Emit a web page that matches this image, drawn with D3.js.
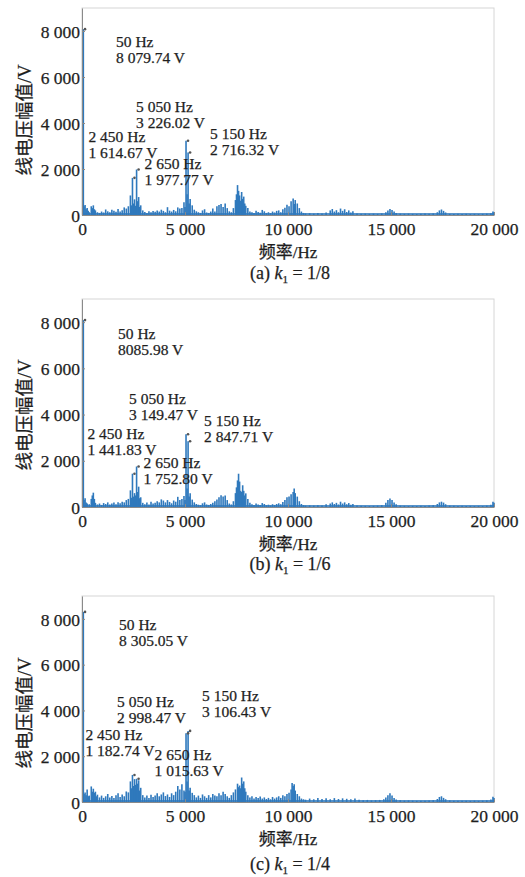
<!DOCTYPE html>
<html>
<head>
<meta charset="utf-8">
<script src="https://cdnjs.cloudflare.com/ajax/libs/d3/7.8.5/d3.min.js"></script>
<style>
  html, body { margin: 0; padding: 0; background: #fff; }
  svg text { font-family: "Times New Roman", "Liberation Serif", "DejaVu Serif", "Noto Sans CJK SC", serif; fill: #1e1e1e; stroke: #1e1e1e; stroke-width: 0.25px; }
</style>
</head>
<body>
<div id="chart"></div>
<script>
'use strict';

// ─── DATA ────────────────────────────────────────────────────
// line-voltage spectra, [frequency Hz, amplitude V]

var xTicks = [0, 5000, 10000, 15000, 20000];
var yTicks = [0, 2000, 4000, 6000, 8000];
var captions = ['1/8', '1/6', '1/4'];
var captionTags = ['(a)', '(b)', '(c)'];

var specA = [
  [50,8079.74],[100,380],[150,430],[200,250],[250,300],[300,180],[350,120],[450,380],[500,300],[550,420],
  [600,250],[650,200],[750,120],[850,90],[950,150],[1050,110],[1150,240],[1250,160],[1350,120],[1450,230],
  [1550,180],[1650,140],[1750,260],[1850,150],[1950,210],[2050,330],[2150,280],[2250,380],[2350,850],[2400,420],
  [2450,1614.67],[2500,500],[2550,680],[2600,400],[2650,1977.77],[2700,600],[2750,780],[2800,350],[2850,420],[2950,200],
  [3050,130],[3150,90],[3250,160],[3350,120],[3450,170],[3550,140],[3650,200],[3750,150],[3850,230],[3950,180],
  [4050,120],[4150,340],[4250,190],[4350,150],[4450,220],[4550,160],[4650,330],[4750,280],[4850,300],[4950,550],
  [5000,350],[5050,3226.02],[5100,900],[5150,2716.32],[5200,500],[5250,700],[5350,420],[5450,230],[5550,160],[5650,120],
  [5750,90],[5850,200],[5950,250],[6050,110],[6150,90],[6250,150],[6350,280],[6450,150],[6550,380],[6650,430],
  [6750,480],[6850,350],[6950,500],[7050,300],[7150,160],[7250,120],[7350,300],[7450,650],[7500,900],[7550,1300],
  [7600,1050],[7650,850],[7700,620],[7750,1000],[7800,700],[7850,800],[7900,500],[7950,400],[8050,300],[8150,150],
  [8250,120],[8350,90],[8450,180],[8550,130],[8650,100],[8750,220],[8850,160],[8950,90],[9050,120],[9150,80],
  [9250,150],[9350,110],[9450,180],[9550,200],[9650,120],[9750,250],[9850,320],[9950,450],[10050,380],[10150,600],
  [10250,720],[10300,480],[10350,650],[10450,500],[10550,300],[10650,150],[10750,90],[10850,70],[11050,80],[11250,60],
  [11450,90],[11650,70],[11850,110],[12050,200],[12150,260],[12250,150],[12350,210],[12450,120],[12550,280],[12650,180],
  [12750,250],[12850,130],[12950,200],[13050,110],[13150,160],[13350,70],[13550,50],[13750,60],[13950,50],[14150,60],
  [14350,50],[14550,70],[14750,120],[14850,200],[14950,260],[15050,220],[15150,150],[15250,90],[15450,60],[15650,50],
  [15850,60],[16050,50],[16250,40],[16450,50],[16650,60],[16850,50],[17050,70],[17250,120],[17350,200],[17450,240],
  [17550,180],[17650,110],[17850,50],[18050,40],[18250,50],[18450,40],[18650,50],[18850,40],[19050,50],[19250,40],
  [19450,50],[19650,60],[19850,80],[19950,150],[20000,120]
];

var specB = [
  [50,8085.98],[100,300],[150,380],[200,200],[250,150],[350,120],[450,350],[500,500],[550,620],[600,350],
  [650,180],[750,110],[850,150],[950,90],[1050,170],[1150,130],[1250,200],[1350,110],[1450,150],[1550,190],
  [1650,120],[1750,210],[1850,160],[1950,230],[2050,200],[2150,300],[2250,350],[2350,720],[2400,400],[2450,1441.83],
  [2500,450],[2550,600],[2600,500],[2650,1752.80],[2700,650],[2750,880],[2800,380],[2850,420],[2950,180],[3050,120],
  [3150,200],[3250,110],[3350,230],[3450,150],[3550,180],[3650,250],[3750,200],[3850,330],[3950,280],[4050,200],
  [4150,300],[4250,220],[4350,160],[4450,280],[4550,230],[4650,440],[4750,300],[4850,350],[4950,480],[5000,300],
  [5050,3149.47],[5100,800],[5150,2847.71],[5200,450],[5250,600],[5350,320],[5450,200],[5550,130],[5650,100],[5750,80],
  [5850,160],[5950,200],[6050,110],[6150,90],[6250,130],[6350,180],[6450,250],[6550,320],[6650,420],[6750,510],
  [6850,450],[6950,500],[7050,300],[7150,150],[7250,110],[7350,250],[7450,600],[7500,850],[7550,1150],[7600,1440],
  [7650,1100],[7700,700],[7750,650],[7800,940],[7850,700],[7900,500],[7950,590],[8050,350],[8150,180],[8250,120],
  [8350,90],[8450,150],[8550,110],[8650,90],[8750,170],[8850,130],[8950,80],[9050,100],[9150,70],[9250,120],
  [9350,90],[9450,130],[9550,160],[9650,120],[9750,220],[9850,300],[9950,420],[10050,450],[10150,550],[10250,650],
  [10300,800],[10350,600],[10450,450],[10550,250],[10650,130],[10750,80],[10850,60],[11050,70],[11250,60],[11450,80],
  [11650,70],[11850,120],[12050,150],[12150,200],[12250,130],[12350,180],[12450,110],[12550,230],[12650,150],[12750,200],
  [12850,120],[12950,170],[13050,100],[13150,130],[13350,60],[13550,50],[13750,50],[13950,40],[14150,50],[14350,60],
  [14550,80],[14750,180],[14850,300],[14950,370],[15050,300],[15150,200],[15250,120],[15450,60],[15650,50],[15850,40],
  [16050,50],[16250,40],[16450,50],[16650,40],[16850,60],[17050,80],[17250,130],[17350,200],[17450,230],[17550,190],
  [17650,120],[17850,60],[18050,50],[18250,40],[18450,50],[18650,40],[18850,50],[19050,40],[19250,50],[19450,40],
  [19650,60],[19850,100],[19950,230],[20000,180]
];

var specC = [
  [50,8305.05],[100,350],[150,420],[200,300],[250,550],[300,250],[350,280],[450,680],[500,450],[550,580],
  [600,400],[650,450],[700,250],[750,320],[850,200],[950,280],[1050,180],[1150,250],[1250,350],[1350,200],
  [1450,260],[1550,180],[1650,300],[1750,380],[1850,220],[1950,330],[2050,250],[2150,460],[2250,420],[2350,900],
  [2400,600],[2450,1182.74],[2500,700],[2550,1000],[2600,750],[2650,1015.63],[2700,800],[2750,950],[2800,500],[2850,620],
  [2950,300],[3050,200],[3150,280],[3250,180],[3350,320],[3450,220],[3550,280],[3650,380],[3750,250],[3850,330],
  [3950,420],[4050,260],[4150,330],[4250,220],[4350,380],[4450,300],[4550,450],[4650,700],[4750,550],[4850,780],
  [4950,500],[5000,450],[5050,2998.47],[5100,900],[5150,3106.43],[5200,500],[5250,620],[5350,400],[5450,300],[5550,200],
  [5650,280],[5750,180],[5850,330],[5950,250],[6050,180],[6150,300],[6250,200],[6350,350],[6450,280],[6550,250],
  [6650,380],[6750,300],[6850,450],[6950,350],[7050,250],[7150,180],[7250,300],[7350,420],[7450,550],[7550,800],
  [7600,650],[7650,720],[7700,600],[7750,1070],[7800,800],[7850,900],[7900,600],[7950,450],[8050,300],[8150,200],
  [8250,250],[8350,150],[8450,220],[8550,170],[8650,240],[8750,150],[8850,200],[8950,130],[9050,180],[9150,120],
  [9250,220],[9350,150],[9450,200],[9550,250],[9650,180],[9750,300],[9850,250],[9950,350],[10050,400],[10150,550],
  [10200,830],[10250,700],[10300,780],[10350,500],[10450,350],[10550,250],[10650,150],[10750,120],[10850,100],[11050,150],
  [11250,120],[11450,170],[11650,130],[11850,160],[12050,120],[12250,170],[12450,130],[12650,160],[12850,140],[13050,120],
  [13250,150],[13450,100],[13650,80],[13850,90],[14050,70],[14250,80],[14450,90],[14650,120],[14750,200],[14850,300],
  [14950,385],[15050,280],[15150,180],[15250,110],[15450,80],[15650,60],[15850,70],[16050,60],[16250,50],[16450,60],
  [16650,50],[16850,70],[17050,80],[17250,130],[17350,220],[17450,250],[17550,180],[17650,120],[17850,70],[18050,50],
  [18250,60],[18450,50],[18650,60],[18850,50],[19050,60],[19250,50],[19450,60],[19650,70],[19850,110],[19950,230],
  [20000,180]
];

// annotated peaks: [frequency, amplitude, line 1, line 2]
var peaksA = [
  [50, 8079.74, '50 Hz', '8 079.74 V'],
  [5050, 3226.02, '5 050 Hz', '3 226.02 V'],
  [2450, 1614.67, '2 450 Hz', '1 614.67 V'],
  [5150, 2716.32, '5 150 Hz', '2 716.32 V'],
  [2650, 1977.77, '2 650 Hz', '1 977.77 V']
];
var peaksB = [
  [50, 8085.98, '50 Hz', '8085.98 V'],
  [5050, 3149.47, '5 050 Hz', '3 149.47 V'],
  [2450, 1441.83, '2 450 Hz', '1 441.83 V'],
  [5150, 2847.71, '5 150 Hz', '2 847.71 V'],
  [2650, 1752.80, '2 650 Hz', '1 752.80 V']
];
var peaksC = [
  [50, 8305.05, '50 Hz', '8 305.05 V'],
  [5050, 2998.47, '5 050 Hz', '2 998.47 V'],
  [2450, 1182.74, '2 450 Hz', '1 182.74 V'],
  [5150, 3106.43, '5 150 Hz', '3 106.43 V'],
  [2650, 1015.63, '2 650 Hz', '1 015.63 V']
];

// ─── LAYOUT ──────────────────────────────────────────────────

var W = 525, H = 877;
var plotLeft = 82, plotRight = 494;
var blue = '#2f79bd';

// label offsets (px) from each peak, same order as the peaks arrays
var panels = [
  { spec: specA, peaks: peaksA, top: 8, zero: 215, capY: 279, yTitle: 120,
    offs: [[33, 18], [-50, -29], [-44, -36], [22, -14], [8, -1]] },
  { spec: specB, peaks: peaksB, top: 299, zero: 507, capY: 570, yTitle: 415,
    offs: [[35, 19], [-57, -30], [-45, -35], [16, -15], [7, 2]] },
  { spec: specC, peaks: peaksC, top: 596, zero: 802, capY: 870, yTitle: 713,
    offs: [[36, 18], [-69, -26], [-47, -35], [14, -30], [18, -19]] }
];

var fmt = function(d) { return d3.format(',')(d).replace(/,/g, ' '); };

var svg = d3.select('#chart').append('svg')
  .attr('width', W).attr('height', H)
  .attr('viewBox', [0, 0, W, H]);

var x = d3.scaleLinear().domain([0, 20000]).range([plotLeft, plotRight]);

panels.forEach(function(p, i) {
  var y = d3.scaleLinear().domain([0, 9000]).range([p.zero, p.top]);
  var g = svg.append('g');

  // frame
  g.append('rect')
    .attr('x', plotLeft).attr('y', p.top)
    .attr('width', plotRight - plotLeft).attr('height', p.zero - p.top)
    .attr('fill', 'none').attr('stroke', '#d6d6d6').attr('stroke-width', 1);

  // spectrum stems
  g.append('g').selectAll('line')
    .data(p.spec)
    .enter().append('line')
    .attr('x1', function(d) { return x(d[0]); })
    .attr('x2', function(d) { return x(d[0]); })
    .attr('y1', y(0))
    .attr('y2', function(d) { return y(d[1]); })
    .attr('stroke', blue)
    .attr('stroke-width', function(d) { return d[1] > 5000 ? 2.2 : 1.6; });

  // baseline of the spectrum
  g.append('line')
    .attr('x1', x(0)).attr('x2', x(20000))
    .attr('y1', y(0) - 1).attr('y2', y(0) - 1)
    .attr('stroke', blue).attr('stroke-width', 2).attr('opacity', 0.8);

  // axes
  var ax = g.append('g').attr('transform', 'translate(0,' + p.zero + ')')
    .call(d3.axisBottom(x).tickValues(xTicks).tickFormat(fmt).tickSizeInner(-3).tickSizeOuter(0).tickPadding(8));
  var ay = g.append('g').attr('transform', 'translate(' + plotLeft + ',0)')
    .call(d3.axisLeft(y).tickValues(yTicks).tickFormat(fmt).tickSizeInner(-3).tickSizeOuter(0).tickPadding(2));
  [ax, ay].forEach(function(a) {
    a.attr('font-family', null);
    a.select('.domain').attr('stroke', '#8a8a8a');
    a.selectAll('.tick line').attr('stroke', '#8a8a8a');
    a.selectAll('text').attr('font-size', 17.5);
  });
  ay.selectAll('text').attr('dy', '0.35em');

  // x title
  g.append('text')
    .attr('x', (plotLeft + plotRight) / 2).attr('y', p.zero + 43)
    .attr('text-anchor', 'middle').attr('font-size', 17)
    .text('频率/Hz');

  // y title
  g.append('text')
    .attr('transform', 'translate(31,' + p.yTitle + ') rotate(-90)')
    .attr('text-anchor', 'middle').attr('font-size', 18.5)
    .text('线电压幅值/V');

  // peak markers and labels
  p.peaks.forEach(function(pk, j) {
    var px = x(pk[0]), py = y(pk[1]);
    var o = p.offs[j];
    g.append('circle')
      .attr('cx', px + 2).attr('cy', py).attr('r', 1.3)
      .attr('fill', '#555');
    var t = g.append('text')
      .attr('x', px + o[0]).attr('y', py + o[1])
      .attr('font-size', 15.5);
    t.append('tspan').attr('x', px + o[0]).text(pk[2]);
    t.append('tspan').attr('x', px + o[0]).attr('dy', 16).text(pk[3]);
  });

  // caption
  var cap = g.append('text')
    .attr('x', 290).attr('y', p.capY)
    .attr('text-anchor', 'middle').attr('font-size', 18);
  cap.append('tspan').text(captionTags[i] + ' ');
  cap.append('tspan').attr('font-style', 'italic').text('k');
  cap.append('tspan').attr('font-size', 11).attr('dy', 4).text('1');
  cap.append('tspan').attr('dy', -4).text(' = ' + captions[i]);
});
</script>
</body>
</html>
